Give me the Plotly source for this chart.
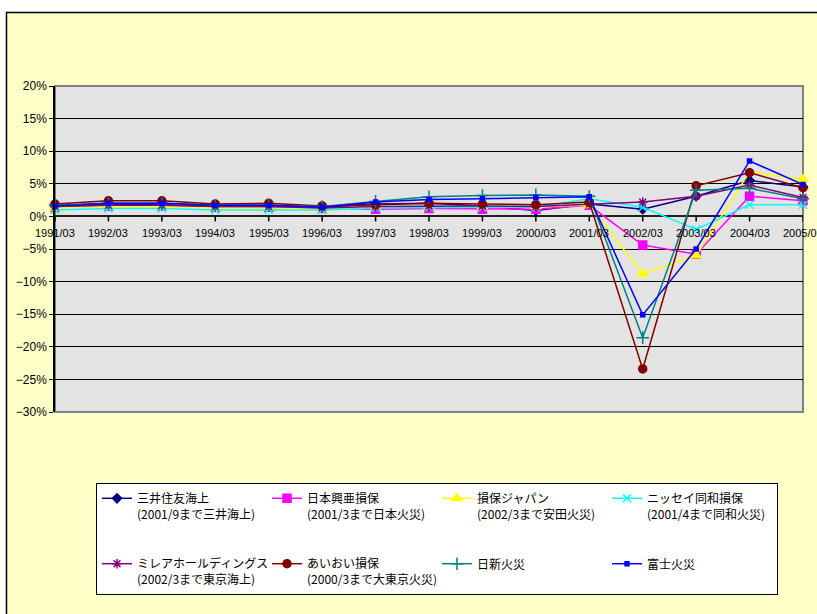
import plotly.graph_objects as go

categories = ["1991/03", "1992/03", "1993/03", "1994/03", "1995/03", "1996/03", "1997/03",
              "1998/03", "1999/03", "2000/03", "2001/03", "2002/03", "2003/03", "2004/03", "2005/03"]

mitsui_sumitomo = [1.7, 1.9, 1.8, 1.6, 1.6, 1.4, 1.9, 2.0, 1.6, 0.9, 1.9, 1.1, 3.1, 5.5, 4.5]
nihon_koa       = [1.4, 1.6, 1.6, 1.4, 1.4, 1.2, 1.1, 1.2, 1.1, 1.1, 1.7, -4.4, -5.8, 3.1, 2.4]
sompo_japan     = [1.3, 1.5, 1.5, 1.3, 1.3, 1.1, 1.4, 1.5, 1.5, 1.5, 1.7, -8.8, -6.0, 6.8, 5.7]
nissay_dowa     = [1.0, 1.2, 1.2, 1.0, 1.0, 1.0, 1.3, 1.4, 1.4, 1.4, 2.7, 1.4, -2.0, 1.8, 1.8]
millea          = [1.5, 1.7, 1.7, 1.5, 1.5, 1.3, 1.5, 1.6, 1.6, 1.5, 1.9, 2.2, 3.1, 4.8, 2.9]
aioi            = [1.9, 2.4, 2.4, 1.9, 2.0, 1.6, 1.8, 2.0, 1.9, 1.8, 2.2, -23.4, 4.7, 6.7, 4.4]
nisshin         = [1.7, 2.0, 2.0, 1.7, 1.7, 1.5, 2.3, 3.0, 3.2, 3.3, 3.1, -18.6, 4.0, 4.3, 2.7]
fuji            = [1.6, 2.0, 2.0, 1.7, 1.7, 1.4, 2.2, 2.6, 2.7, 2.9, 3.0, -15.1, -5.0, 8.5, 4.9]

names = [
    "三井住友海上<br>(2001/9まで三井海上)",
    "日本興亜損保<br>(2001/3まで日本火災)",
    "損保ジャパン<br>(2002/3まで安田火災)",
    "ニッセイ同和損保<br>(2001/4まで同和火災)",
    "ミレアホールディングス<br>(2002/3まで東京海上)",
    "あいおい損保<br>(2000/3まで大東京火災)",
    "日新火災",
    "富士火災",
]
series = [mitsui_sumitomo, nihon_koa, sompo_japan, nissay_dowa, millea, aioi, nisshin, fuji]
colors = ["#000080", "#FF00FF", "#FFFF00", "#00FFFF", "#800080", "#800000", "#008080", "#0000FF"]
symbols = ["diamond", "square", "triangle-up", "x-thin-open", "asterisk-open", "circle", "cross-thin-open", "square"]
sizes = [7, 8, 9, 8, 8, 8, 9, 4]

W, H = 817, 614
L, R, T, B = 55, 14, 86, 202
pw, ph = W - L - R, H - T - B

def px_x(p):
    return (p - L) / pw

def px_y(p):
    return (H - B - p) / ph

fig = go.Figure()
for i, (nm, vals, c, s, sz) in enumerate(zip(names, series, colors, symbols, sizes)):
    label = nm + "<br> <br> " if i < 4 else nm
    fig.add_trace(go.Scatter(
        x=categories, y=vals, name=label, mode="lines+markers",
        line=dict(color=c, width=1.5),
        marker=dict(symbol=s, size=sz, color=c, line=dict(color=c, width=1.5)),
        cliponaxis=False,
    ))

shapes = [
    dict(type="rect", xref="paper", yref="paper", x0=px_x(0), x1=px_x(W + 20), y0=px_y(12), y1=px_y(-5),
         fillcolor="white", line=dict(width=0), layer="below"),
    dict(type="rect", xref="paper", yref="paper", x0=px_x(-5), x1=px_x(6), y0=px_y(H + 20), y1=px_y(-5),
         fillcolor="white", line=dict(width=0), layer="below"),
    dict(type="rect", xref="paper", yref="paper", x0=px_x(6.5), x1=px_x(W + 20), y0=px_y(H + 20), y1=px_y(12.5),
         fillcolor="rgba(0,0,0,0)", line=dict(color="black", width=1.5), layer="below"),
    dict(type="rect", xref="paper", yref="paper", x0=0, x1=1, y0=0, y1=1,
         fillcolor="rgba(0,0,0,0)", line=dict(color="#808080", width=2), layer="below"),
]
annotations = []
for c in categories:
    shapes.append(dict(type="line", xref="x", yref="y", x0=c, x1=c, ysizemode="pixel", yanchor=0,
                       y0=0, y1=-5, line=dict(color="black", width=1.5)))
    annotations.append(dict(x=c, y=0, xref="x", yref="y", text=c, showarrow=False, yshift=-17,
                            font=dict(size=11, color="black", family="Liberation Sans Narrow, Arial Narrow, sans-serif")))

fig.update_layout(
    width=W, height=H,
    margin=dict(l=L, r=R, t=T, b=B, autoexpand=False),
    paper_bgcolor="#FFFFC8",
    plot_bgcolor="#E3E3E3",
    font=dict(family="Noto Sans CJK JP, sans-serif", color="black"),
    shapes=shapes,
    annotations=annotations,
    xaxis=dict(type="category", range=[0, len(categories) - 1], showticklabels=False, showgrid=False,
               zeroline=False, showline=False, ticks=""),
    yaxis=dict(range=[-30, 20], dtick=5, ticksuffix="%", showgrid=True, gridcolor="black", gridwidth=1,
               zeroline=True, zerolinecolor="#202020", zerolinewidth=1.5,
               showline=True, linecolor="black", linewidth=1.5, ticks="outside", ticklen=4, tickcolor="black",
               tickfont=dict(size=12, family="Liberation Sans Narrow, Arial Narrow, sans-serif")),
    legend=dict(orientation="h", xref="container", yref="container",
                x=96 / W, y=1 - 483 / H, xanchor="left", yanchor="top",
                bgcolor="white", bordercolor="black", borderwidth=1,
                entrywidth=125, entrywidthmode="pixels", itemwidth=30, valign="top",
                traceorder="normal",
                font=dict(size=12, family="Noto Sans CJK JP, sans-serif")),
    showlegend=True,
)

fig.write_html("out.html")
